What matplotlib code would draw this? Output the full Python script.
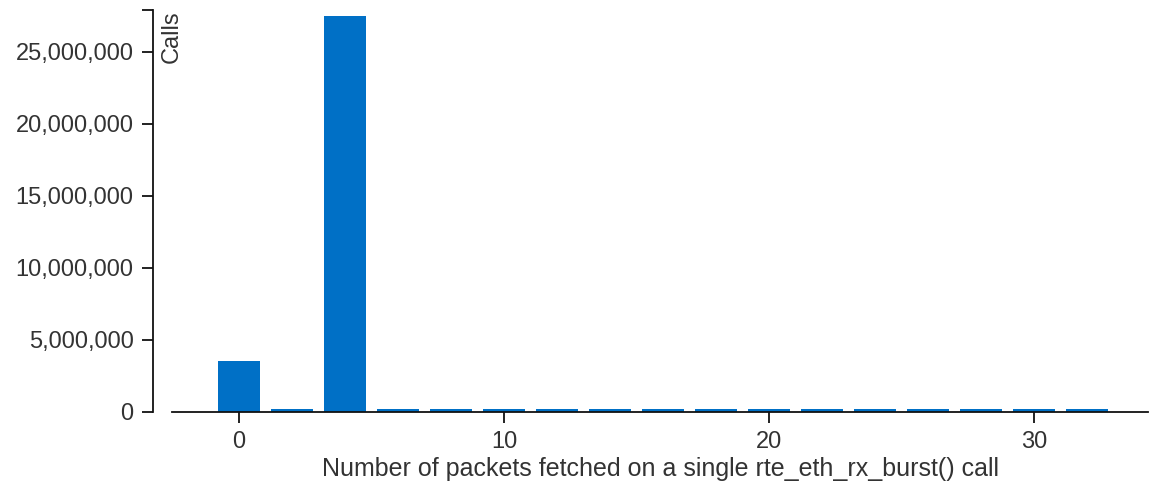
import matplotlib
matplotlib.use("Agg")
import matplotlib.pyplot as plt
from matplotlib.ticker import FuncFormatter

# packets fetched per rte_eth_rx_burst() call -> number of calls
packets = [0, 2, 4, 6, 8, 10, 12, 14, 16, 18, 20, 22, 24, 26, 28, 30, 32]
calls = [3530000, 150000, 27500000, 150000, 150000, 150000, 150000, 150000,
         150000, 150000, 150000, 150000, 150000, 150000, 150000, 150000, 150000]
y_ticks = [0, 5000000, 10000000, 15000000, 20000000, 25000000]
y_top = 27920000

plt.rcParams['font.family'] = ['Liberation Sans', 'DejaVu Sans']
text_col = '#333333'
bar_col = '#0070c6'

W, H = 1150, 487
fig = plt.figure(figsize=(W / 100, H / 100), dpi=100)
# axes area in pixels: left spine at x=153, x-axis to 1148, y from 10 to 411.5
left, right, top, bottom = 153, 1148, 10, 411.5
ax = fig.add_axes([left / W, (H - bottom) / H, (right - left) / W, (bottom - top) / H])

px_per_unit = 26.5
x0 = 239
xaxis_start = 172
ax.set_xlim((left - x0) / px_per_unit, (right - x0) / px_per_unit)
ax.set_ylim(0, y_top)

ax.bar(packets, calls, width=1.6, color=bar_col, zorder=2)

for s in ['top', 'right']:
    ax.spines[s].set_visible(False)
ax.spines['bottom'].set_bounds((xaxis_start - x0) / px_per_unit, (right - x0) / px_per_unit)
ax.spines['left'].set_bounds(0, y_top)
for s in ['bottom', 'left']:
    ax.spines[s].set_linewidth(1.3)
    ax.spines[s].set_color('#111111')
    ax.spines[s].set_zorder(3)

ax.set_xticks([0, 10, 20, 30])
ax.set_yticks(y_ticks + [y_top])
ax.yaxis.set_major_formatter(FuncFormatter(lambda v, p: '' if v == y_top else f'{int(round(v)):,}'))
ax.tick_params(axis='both', length=8, width=1.3, color='#111111', pad=6,
               labelsize=17, labelcolor=text_col)

ax.set_xlabel('Number of packets fetched on a single rte_eth_rx_burst() call',
              fontsize=18, color=text_col, labelpad=3)
# centre the label under the x-axis line, not the whole axes box
ax.xaxis.label.set_x(((xaxis_start + right) / 2 - left) / (right - left))
ax.text(172 / W, 1 - top / H, 'Calls', transform=fig.transFigure, rotation=90,
        ha='center', va='top', fontsize=17, color=text_col)

fig.savefig('out.png', dpi=100)
